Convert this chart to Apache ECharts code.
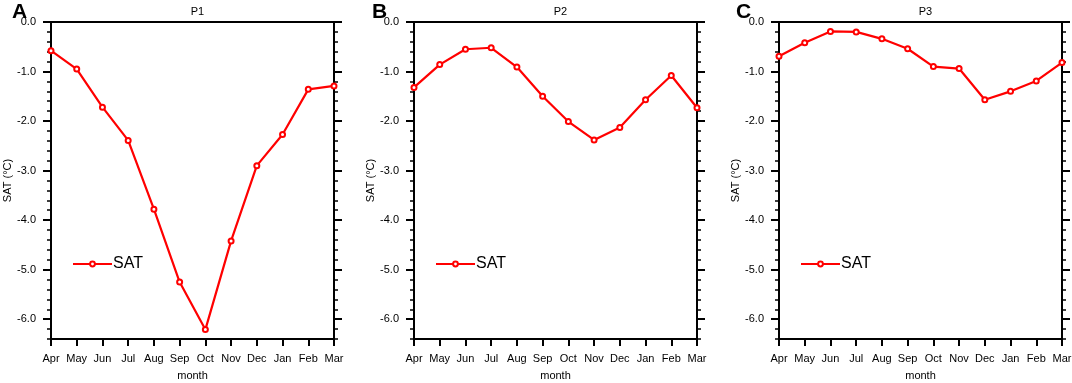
<!DOCTYPE html>
<html>
<head>
<meta charset="utf-8">
<script src="https://cdn.jsdelivr.net/npm/echarts@6/dist/echarts.min.js"></script>
<style>html,body{margin:0;padding:0;background:#fff;}#c{width:1072px;height:383px;}</style>
</head>
<body>
<div id="c"></div>
<script>
const months = ['Apr','May','Jun','Jul','Aug','Sep','Oct','Nov','Dec','Jan','Feb','Mar'];
const p1 = [-0.58,-0.95,-1.72,-2.39,-3.78,-5.25,-6.21,-4.42,-2.90,-2.27,-1.36,-1.29];
const p2 = [-1.32,-0.86,-0.55,-0.52,-0.91,-1.50,-2.01,-2.38,-2.13,-1.57,-1.08,-1.73];
const p3 = [-0.69,-0.42,-0.19,-0.20,-0.34,-0.54,-0.90,-0.94,-1.57,-1.40,-1.19,-0.82];
const panelTitles = ['P1','P2','P3'];
const panelLetters = ['A','B','C'];
const yTicks = [0,-1,-2,-3,-4,-5,-6];
const yMin = -6.4, yMax = 0;

const FONT = 'Liberation Sans, Arial, sans-serif';
const seriesData = [p1,p2,p3];
const gridLefts = [51, 414, 779];
const letterLefts = [7, 367, 731];
const gridW = 283;
const gridTop = 22, gridH = 317;

const grids = [], xAxes = [], yAxes = [], series = [], titles = [], legends = [];
for (let g = 0; g < 3; g++) {
  grids.push({left: gridLefts[g], top: gridTop, width: gridW, height: gridH,
    outerBoundsMode: 'none',
    show: true, borderColor: '#000', borderWidth: 2, backgroundColor: 'transparent', containLabel: false});
  xAxes.push({type: 'category', gridIndex: g, data: months, boundaryGap: false, position: 'bottom',
    axisLine: {show: true, onZero: false, lineStyle: {color: '#000', width: 2}},
    axisTick: {show: true, length: 7, lineStyle: {color: '#000', width: 2}},
    axisLabel: {color: '#000', fontFamily: FONT, fontSize: 11, margin: 14, interval: 0},
    splitLine: {show: false},
    name: 'month', nameLocation: 'middle', nameGap: 31,
    nameTextStyle: {color: '#000', fontFamily: FONT, fontSize: 11}});
  const base = {gridIndex: g, type: 'value', min: yMin, max: yMax, splitLine: {show: false}};
  // left major
  yAxes.push(Object.assign({}, base, {position: 'left',
    axisLine: {show: true, onZero: false, lineStyle: {color: '#000', width: 2}},
    axisTick: {show: true, length: 8, customValues: yTicks, lineStyle: {color: '#000', width: 2}},
    axisLabel: {show: true, customValues: yTicks, formatter: v => Math.abs(v) < 1e-9 ? '0.0' : Number(v).toFixed(1),
      color: '#000', fontFamily: FONT, fontSize: 11, margin: 15},
    name: 'SAT (°C)', nameLocation: 'middle', nameGap: 38, nameRotate: 90,
    nameTextStyle: {color: '#000', fontFamily: FONT, fontSize: 11}}));
  // left minor
  yAxes.push(Object.assign({}, base, {position: 'left', interval: 0.2,
    axisLine: {show: false, onZero: false}, axisLabel: {show: false},
    axisTick: {show: true, length: 4, lineStyle: {color: '#000', width: 1.5}}}));
  // right major
  yAxes.push(Object.assign({}, base, {position: 'right',
    axisLine: {show: true, onZero: false, lineStyle: {color: '#000', width: 2}},
    axisTick: {show: true, length: 8, customValues: yTicks, lineStyle: {color: '#000', width: 2}},
    axisLabel: {show: false}}));
  // right minor
  yAxes.push(Object.assign({}, base, {position: 'right', interval: 0.2,
    axisLine: {show: false, onZero: false}, axisLabel: {show: false},
    axisTick: {show: true, length: 4, lineStyle: {color: '#000', width: 1.5}}}));

  series.push({type: 'line', name: 'SAT', xAxisIndex: g, yAxisIndex: g*4,
    data: seriesData[g], symbol: 'emptyCircle', symbolSize: 5,
    lineStyle: {color: '#ff0000', width: 2.2}, itemStyle: {color: '#ff0000', borderColor: '#ff0000', borderWidth: 1},
    emphasis: {disabled: true}, animation: false});

  titles.push({text: panelTitles[g], left: gridLefts[g] + gridW/2, top: 1, textAlign: 'center',
    textStyle: {fontFamily: FONT, fontSize: 11, fontWeight: 'normal', color: '#000'}});
  titles.push({text: panelLetters[g], left: letterLefts[g], top: -3,
    textStyle: {fontFamily: FONT, fontSize: 21, fontWeight: 'bold', color: '#000'}});

  legends.push({data: ['SAT'], left: gridLefts[g] + 21, top: 256, padding: 0,
    itemWidth: 39, itemHeight: 6, selectedMode: false,
    textStyle: {fontFamily: FONT, fontSize: 16, color: '#000', padding: [0,0,0,-4]}});
}

const chart = echarts.init(document.getElementById('c'), null, {renderer: 'canvas'});
chart.setOption({animation: false, backgroundColor: '#fff', title: titles, legend: legends,
  grid: grids, xAxis: xAxes, yAxis: yAxes, series: series});
</script>
</body>
</html>
